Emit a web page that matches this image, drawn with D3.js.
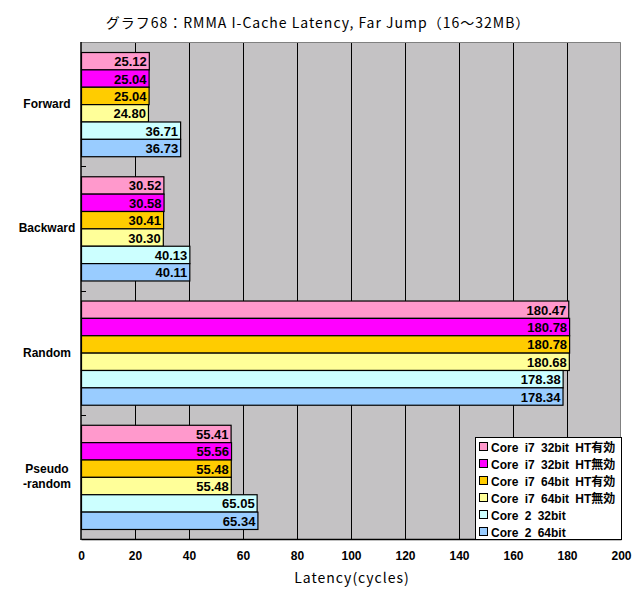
<!DOCTYPE html>
<html><head><meta charset="utf-8">
<script src="https://cdn.jsdelivr.net/npm/d3@7"></script>
<style>body{margin:0;background:#fff}svg{display:block}</style>
</head><body>
<script>
const categories = ["Forward", "Backward", "Random", "Pseudo\n-random"];
const seriesNames = ["Core i7 32bit HT有効", "Core i7 32bit HT無効", "Core i7 64bit HT有効", "Core i7 64bit HT無効", "Core 2 32bit", "Core 2 64bit"];
const seriesColors = ["#FF99CC", "#FF00FF", "#FFCC00", "#FFFF99", "#CCFFFF", "#99CCFF"];
const forward = [25.12, 25.04, 25.04, 24.80, 36.71, 36.73];
const backward = [30.52, 30.58, 30.41, 30.30, 40.13, 40.11];
const random = [180.47, 180.78, 180.78, 180.68, 178.38, 178.34];
const pseudoRandom = [55.41, 55.56, 55.48, 55.48, 65.05, 65.34];
const xTicks = [0, 20, 40, 60, 80, 100, 120, 140, 160, 180, 200];
const values = [forward, backward, random, pseudoRandom];

const W = 635, H = 592;
const L = 81, R = 621, T = 42, B = 539;
const font = "'Liberation Sans', 'Noto Sans CJK JP', sans-serif";

const svg = d3.select("body").append("svg").attr("width", W).attr("height", H);

const x = d3.scaleLinear().domain([0, 200]).range([L, R]);
const y = d3.scaleBand().domain(d3.range(categories.length)).range([T, B]).padding(0);
const ys = d3.scaleBand().domain(d3.range(seriesNames.length)).range([0, y.bandwidth()]).paddingInner(0).paddingOuter(0.577);

// plot background
svg.append("rect").attr("x", L).attr("y", T).attr("width", R - L).attr("height", B - T).attr("fill", "#C4C2C4");

// gridlines
svg.append("g").selectAll("line").data(xTicks.slice(1, -1)).join("line")
  .attr("x1", d => Math.round(x(d)) + 0.5).attr("x2", d => Math.round(x(d)) + 0.5)
  .attr("y1", T).attr("y2", B).attr("stroke", "#000").attr("stroke-width", 1);

// top/right border
svg.append("path").attr("d", `M${L},${T + 0.5}H${R - 0.5}V${B}`).attr("fill", "none").attr("stroke", "#808080").attr("stroke-width", 1);

// bars
const groups = svg.append("g").selectAll("g").data(values).join("g")
  .attr("transform", (d, i) => `translate(0,${y(i)})`);
groups.selectAll("rect").data(d => d).join("rect")
  .attr("x", x(0) + 0.5)
  .attr("y", (d, j) => ys(j) + 0.5)
  .attr("width", d => x(d) - x(0))
  .attr("height", ys.bandwidth())
  .attr("fill", (d, j) => seriesColors[j])
  .attr("stroke", "#000").attr("stroke-width", 1.2);
groups.selectAll("text").data(d => d).join("text")
  .attr("x", d => x(d) - 2)
  .attr("y", (d, j) => ys(j) + ys.bandwidth() / 2 + 5.5)
  .attr("text-anchor", "end")
  .attr("font-family", font).attr("font-weight", "bold").attr("font-size", 13)
  .attr("fill", "#000")
  .text(d => d.toFixed(2));

// axes
const xAxis = d3.axisBottom(x).tickValues(xTicks).tickSize(0).tickPadding(12).tickFormat(d3.format("d"));
const gx = svg.append("g").attr("transform", `translate(0,${B})`).call(xAxis);
gx.select(".domain").attr("stroke", "#000").attr("stroke-width", 1.5);
gx.selectAll("text").attr("font-family", font).attr("font-weight", "bold").attr("font-size", 12).attr("fill", "#000");

const yEdge = d3.scaleLinear().domain([0, categories.length]).range([T, B]);
svg.append("line").attr("x1", L).attr("x2", L).attr("y1", T).attr("y2", B + 1).attr("stroke", "#000").attr("stroke-width", 1.5);
svg.append("g").selectAll("line").data(d3.range(1, categories.length)).join("line")
  .attr("x1", L).attr("x2", L + 5).attr("y1", d => Math.round(yEdge(d)) + 0.5).attr("y2", d => Math.round(yEdge(d)) + 0.5)
  .attr("stroke", "#000");

// category labels
svg.append("g").selectAll("text").data(categories).join("text")
  .attr("font-family", font).attr("font-weight", "bold").attr("font-size", 12).attr("fill", "#000")
  .attr("text-anchor", "middle")
  .each(function(d, i) {
    const lines = d.split("\n");
    const cy = y(i) + y.bandwidth() / 2;
    const t = d3.select(this);
    lines.forEach((ln, k) => {
      t.append("tspan").attr("x", 47).attr("y", cy + 4 + (k - (lines.length - 1) / 2) * 15).text(ln);
    });
  });

// title
svg.append("text").attr("x", 318).attr("y", 28).attr("text-anchor", "middle")
  .attr("font-family", "'Noto Sans CJK JP', sans-serif").attr("font-size", 14).attr("letter-spacing", 1).attr("fill", "#000")
  .text("グラフ68：RMMA I-Cache Latency, Far Jump（16～32MB）");

// x axis title
svg.append("text").attr("x", 352).attr("y", 583).attr("text-anchor", "middle")
  .attr("font-family", "'Noto Sans CJK JP', sans-serif").attr("font-size", 14).attr("letter-spacing", 1).attr("fill", "#000")
  .text("Latency(cycles)");

// legend
const lg = svg.append("g");
lg.append("rect").attr("x", 475.5).attr("y", 437.5).attr("width", 146).attr("height", 102)
  .attr("fill", "#fff").attr("stroke", "#000").attr("stroke-width", 1);
const li = lg.selectAll("g").data(seriesNames).join("g")
  .attr("transform", (d, i) => `translate(0,${447 + i * 17})`);
li.append("rect").attr("x", 479.5).attr("y", -4.5).attr("width", 8).attr("height", 8)
  .attr("fill", (d, i) => seriesColors[i]).attr("stroke", "#000");
li.append("text").attr("x", 491).attr("y", 5)
  .attr("font-family", font).attr("font-weight", "bold").attr("font-size", 12).attr("fill", "#000")
  .attr("word-spacing", 3)
  .text(d => d);
</script>
</body></html>
